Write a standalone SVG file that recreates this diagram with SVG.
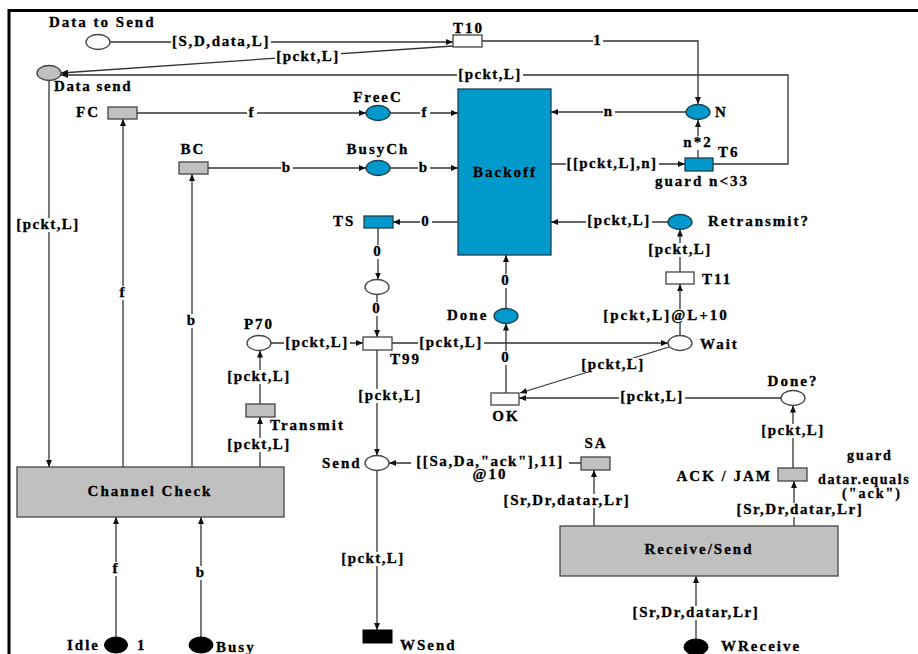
<svg xmlns="http://www.w3.org/2000/svg" width="918" height="654" viewBox="0 0 918 654">
<style>
text{font-family:"Liberation Serif","Times New Roman",serif;font-weight:bold;font-size:15px;letter-spacing:2px;fill:#000;stroke:#000;stroke-width:0.3}
.m{text-anchor:middle}
.e{text-anchor:end}
.n{letter-spacing:1.4px}
.s{letter-spacing:1.6px}
.bg{fill:#fff}
.arc{fill:none;stroke:#333;stroke-width:1.3}
.a{marker-end:url(#ah)}
.w{fill:#fff;stroke:#444;stroke-width:1.3}
.g{fill:#c0c0c0;stroke:#444;stroke-width:1.3}
.b{fill:#0099cc;stroke:#1d3f50;stroke-width:1.3}
.k{fill:#000;stroke:#000;stroke-width:1}
</style>
<defs>
<marker id="ah" viewBox="0 0 7 6" markerWidth="7" markerHeight="6" refX="7" refY="3" orient="auto" markerUnits="userSpaceOnUse">
<path d="M0,0 L7,3 L0,6 z" fill="#111"/>
</marker>
</defs>
<rect width="918" height="654" fill="#fff"/>
<path d="M9,654 V10.5 H918" fill="none" stroke="#000" stroke-width="3"/>

<g id="connectors">
<path class="arc a" d="M110,42 H453"/>
<path class="arc a" d="M453,46 L61,73"/>
<path class="arc a" d="M713,164 H788 V75 H61"/>
<path class="arc a" d="M482,41 H698 V104"/>
<path class="arc a" d="M686,112 H551"/>
<path class="arc a" d="M698,158 V120"/>
<path class="arc a" d="M551,164 H685"/>
<path class="arc a" d="M137,113 H366"/>
<path class="arc a" d="M390,113 H458"/>
<path class="arc a" d="M208,168 H366"/>
<path class="arc a" d="M390,168 H458"/>
<path class="arc a" d="M458,222 H393"/>
<path class="arc a" d="M378,228 V279.5"/>
<path class="arc a" d="M377,294.5 V337"/>
<path class="arc a" d="M271,343 H363"/>
<path class="arc a" d="M392,343 H668"/>
<path class="arc a" d="M377,350 V455.5"/>
<path class="arc a" d="M260,404 V350.5"/>
<path class="arc a" d="M260,467 V417"/>
<path class="arc a" d="M49,80.5 V467"/>
<path class="arc a" d="M123,467 V119"/>
<path class="arc a" d="M192,467 V174"/>
<path class="arc a" d="M116,637 V517"/>
<path class="arc a" d="M201,637 V517"/>
<path class="arc a" d="M377,470.5 V630"/>
<path class="arc a" d="M581,463 H389"/>
<path class="arc a" d="M594,526 V470"/>
<path class="arc a" d="M794,526 V481"/>
<path class="arc a" d="M793,468 V405.5"/>
<path class="arc a" d="M781,398 H519"/>
<path class="arc a" d="M669,347 L520,393"/>
<path class="arc a" d="M506,393 V323.5"/>
<path class="arc a" d="M506,308.5 V255"/>
<path class="arc a" d="M668,222 H551"/>
<path class="arc a" d="M680,272 V229.5"/>
<path class="arc a" d="M680,335.5 V284"/>
<path class="arc a" d="M696,639 V576"/>

<g class="bg">
<rect x="171" y="35" width="100" height="14"/>
<rect x="275" y="50" width="66" height="14"/>
<rect x="457" y="68" width="66" height="14"/>
<rect x="593" y="34" width="10" height="14"/>
<rect x="603" y="105" width="12" height="14"/>
<rect x="682" y="136" width="32" height="14"/>
<rect x="566" y="157" width="93" height="14"/>
<rect x="247" y="106" width="10" height="14"/>
<rect x="420" y="106" width="10" height="14"/>
<rect x="281" y="161" width="12" height="14"/>
<rect x="418" y="161" width="12" height="14"/>
<rect x="420" y="215" width="12" height="14"/>
<rect x="372" y="245" width="12" height="14"/>
<rect x="371" y="302" width="12" height="14"/>
<rect x="284" y="336" width="66" height="14"/>
<rect x="418" y="336" width="66" height="14"/>
<rect x="357" y="389" width="66" height="14"/>
<rect x="226" y="370" width="66" height="14"/>
<rect x="226" y="438" width="66" height="14"/>
<rect x="15" y="218" width="66" height="14"/>
<rect x="118" y="286" width="10" height="14"/>
<rect x="186" y="314" width="12" height="14"/>
<rect x="111" y="562" width="10" height="14"/>
<rect x="195" y="566" width="12" height="14"/>
<rect x="340" y="552" width="66" height="14"/>
<rect x="411" y="455" width="158" height="14"/>
<rect x="500" y="494" width="134" height="14"/>
<rect x="733" y="503" width="134" height="14"/>
<rect x="760" y="424" width="66" height="14"/>
<rect x="619" y="390" width="66" height="14"/>
<rect x="580" y="358" width="66" height="14"/>
<rect x="500" y="351" width="12" height="14"/>
<rect x="500" y="274" width="12" height="14"/>
<rect x="586" y="214" width="66" height="14"/>
<rect x="647" y="243" width="66" height="14"/>
<rect x="602" y="309" width="128" height="14"/>
<rect x="629" y="606" width="134" height="14"/>
</g>

<text class="m s" x="221" y="46">[S,D,data,L]</text>
<text class="m n" x="308" y="61">[pckt,L]</text>
<text class="m n" x="490" y="79">[pckt,L]</text>
<text class="m" x="598" y="45">1</text>
<text class="m" x="609" y="116">n</text>
<text class="m" x="698" y="147">n*2</text>
<text class="m n" x="612" y="168">[[pckt,L],n]</text>
<text class="m" x="252" y="117">f</text>
<text class="m" x="425" y="117">f</text>
<text class="m" x="287" y="172">b</text>
<text class="m" x="424" y="172">b</text>
<text class="m" x="426" y="226">0</text>
<text class="m" x="378" y="256">0</text>
<text class="m" x="377" y="313">0</text>
<text class="m n" x="317" y="347">[pckt,L]</text>
<text class="m n" x="451" y="347">[pckt,L]</text>
<text class="m n" x="390" y="400">[pckt,L]</text>
<text class="m n" x="259" y="381">[pckt,L]</text>
<text class="m n" x="259" y="449">[pckt,L]</text>
<text class="m n" x="48" y="229">[pckt,L]</text>
<text class="m" x="123" y="297">f</text>
<text class="m" x="192" y="325">b</text>
<text class="m" x="116" y="573">f</text>
<text class="m" x="201" y="577">b</text>
<text class="m n" x="373" y="563">[pckt,L]</text>
<text class="m s" x="490" y="466">[[Sa,Da,"ack"],11]</text>
<text class="m" x="490" y="479">@10</text>
<text class="m s" x="567" y="505">[Sr,Dr,datar,Lr]</text>
<text class="m s" x="800" y="514">[Sr,Dr,datar,Lr]</text>
<text class="m n" x="793" y="435">[pckt,L]</text>
<text class="m n" x="652" y="401">[pckt,L]</text>
<text class="m n" x="613" y="369">[pckt,L]</text>
<text class="m" x="506" y="362">0</text>
<text class="m" x="506" y="285">0</text>
<text class="m n" x="619" y="225">[pckt,L]</text>
<text class="m n" x="680" y="254">[pckt,L]</text>
<text class="m" x="666" y="320">[pckt,L]@L+10</text>
<text class="m s" x="696" y="617">[Sr,Dr,datar,Lr]</text>
</g>

<g id="DataToSend"><ellipse class="w" cx="98" cy="42" rx="12" ry="7.5"/><text x="49" y="27">Data to Send</text></g>
<g id="DataSend"><ellipse class="g" cx="49" cy="73" rx="12" ry="7.5"/><text x="54" y="91" class="s">Data send</text></g>
<g id="FreeC"><ellipse class="b" cx="378" cy="113" rx="12" ry="7.5"/><text class="m" x="378" y="102">FreeC</text></g>
<g id="BusyCh"><ellipse class="b" cx="378" cy="168" rx="12" ry="7.5"/><text class="m" x="378" y="154">BusyCh</text></g>
<g id="N"><ellipse class="b" cx="698" cy="112" rx="12" ry="7.5"/><text x="715" y="117">N</text></g>
<g id="Retransmit"><ellipse class="b" cx="680" cy="222" rx="12" ry="7.5"/><text x="708" y="226">Retransmit?</text></g>
<g id="P0"><ellipse class="w" cx="377" cy="287" rx="12" ry="7.5"/></g>
<g id="P70"><ellipse class="w" cx="259" cy="343" rx="12" ry="7.5"/><text class="m" x="259" y="329">P70</text></g>
<g id="Done"><ellipse class="b" cx="506" cy="316" rx="12" ry="7.5"/><text x="447" y="320">Done</text></g>
<g id="Wait"><ellipse class="w" cx="680" cy="343" rx="12" ry="7.5"/><text x="700" y="349">Wait</text></g>
<g id="DoneQ"><ellipse class="w" cx="793" cy="398" rx="12" ry="7.5"/><text class="m" x="793" y="386">Done?</text></g>
<g id="Send"><ellipse class="w" cx="377" cy="463" rx="12" ry="7.5"/><text x="322" y="468">Send</text></g>
<g id="Idle"><ellipse class="k" cx="116" cy="645" rx="11.5" ry="8"/><text x="67" y="650">Idle</text><text x="137" y="650">1</text></g>
<g id="Busy"><ellipse class="k" cx="201" cy="645" rx="12" ry="8"/><text x="216" y="652">Busy</text></g>
<g id="WReceive"><ellipse class="k" cx="696" cy="647" rx="12" ry="8"/><text x="721" y="651">WReceive</text></g>

<g id="T10"><rect class="w" x="453" y="35" width="29" height="12"/><text x="453" y="33">T10</text></g>
<g id="FC"><rect class="g" x="108" y="107" width="29" height="12"/><text x="76" y="117">FC</text></g>
<g id="BC"><rect class="g" x="179" y="162" width="29" height="12"/><text class="m" x="193" y="154">BC</text></g>
<g id="Backoff"><rect class="b" x="458" y="89" width="93" height="166"/><text class="m" x="505" y="177">Backoff</text></g>
<g id="T6"><rect class="b" x="685" y="158" width="28" height="13"/><text x="718" y="157">T6</text><text class="m" x="702" y="186">guard n&lt;33</text></g>
<g id="TS"><rect class="b" x="364" y="216" width="29" height="12"/><text x="333" y="226">TS</text></g>
<g id="T99"><rect class="w" x="363" y="337" width="29" height="13"/><text x="390" y="364">T99</text></g>
<g id="T11"><rect class="w" x="666" y="272" width="28" height="12"/><text x="702" y="284">T11</text></g>
<g id="Transmit"><rect class="g" x="246" y="404" width="29" height="13"/><text x="270" y="430">Transmit</text></g>
<g id="OK"><rect class="w" x="491" y="393" width="28" height="12"/><text class="m" x="506" y="421">OK</text></g>
<g id="ChannelCheck"><rect class="g" x="17" y="467" width="267" height="50"/><text class="m" x="150" y="496">Channel Check</text></g>
<g id="SA"><rect class="g" x="581" y="457" width="29" height="13"/><text class="m" x="596" y="448">SA</text></g>
<g id="AckJam"><rect class="g" x="778" y="468" width="29" height="13"/><text class="e" x="772" y="481">ACK / JAM</text><text class="m" x="870" y="460" style="font-size:14px">guard</text><text x="818" y="484" style="font-size:14px;letter-spacing:1.6px">datar.equals</text><text class="m" x="872" y="498" style="font-size:14px">("ack")</text></g>
<g id="ReceiveSend"><rect class="g" x="560" y="526" width="278" height="50"/><text class="m" x="699" y="554">Receive/Send</text></g>
<g id="WSend"><rect class="k" x="363" y="630" width="29" height="13"/><text x="400" y="650">WSend</text></g>
</svg>
